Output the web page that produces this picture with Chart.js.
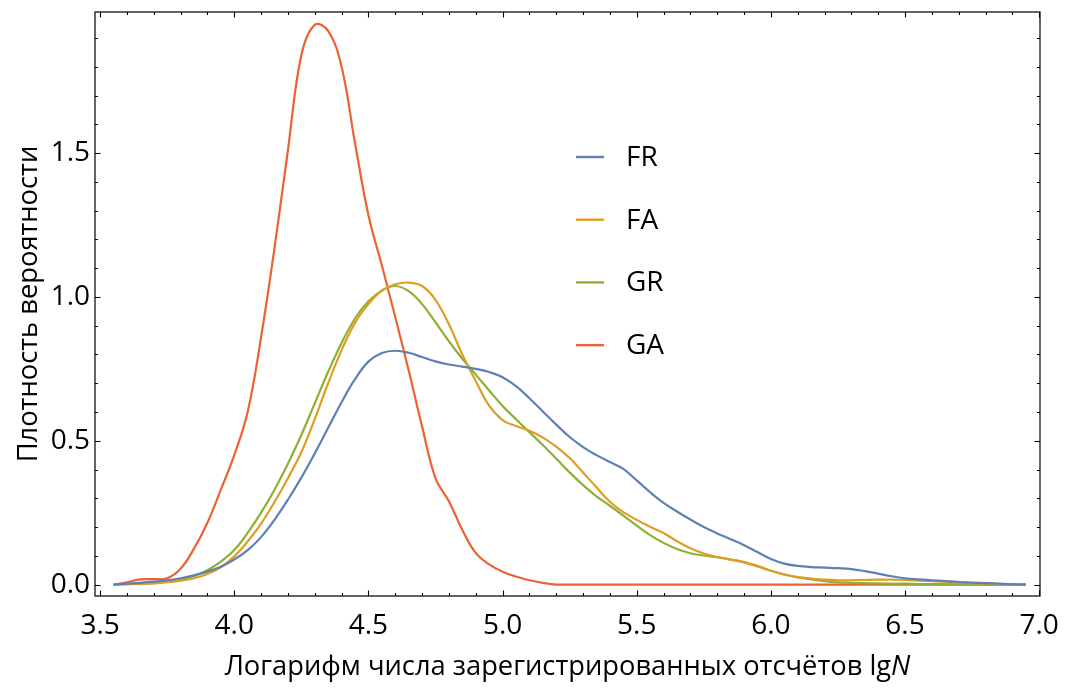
<!DOCTYPE html>
<html>
<head>
<meta charset="utf-8">
<script src="https://cdn.jsdelivr.net/npm/chart.js@4.4.1/dist/chart.umd.min.js"></script>
<style>
  html, body { margin: 0; padding: 0; background: #ffffff; }
  #wrap { width: 1066px; height: 691px; position: relative; }
</style>
</head>
<body>
<div id="wrap"><canvas id="c" width="1066" height="691"></canvas></div>
<script>
// Sample points of lg N
const lgN = [3.55, 3.60, 3.65, 3.70, 3.75, 3.80, 3.85, 3.90, 3.95, 4.00,
             4.05, 4.10, 4.15, 4.20, 4.25, 4.30, 4.35, 4.40, 4.45, 4.50,
             4.55, 4.60, 4.65, 4.70, 4.75, 4.80, 4.85, 4.90, 4.95, 5.00,
             5.05, 5.10, 5.15, 5.20, 5.25, 5.30, 5.35, 5.40, 5.45, 5.50,
             5.55, 5.60, 5.65, 5.70, 5.75, 5.80, 5.85, 5.90, 5.95, 6.00,
             6.05, 6.10, 6.15, 6.20, 6.25, 6.30, 6.35, 6.40, 6.45, 6.50,
             6.55, 6.60, 6.65, 6.70, 6.75, 6.80, 6.85, 6.90, 6.95];

// Probability density estimates per group
const densityFR = [0.000, 0.003, 0.006, 0.010, 0.015, 0.022, 0.032, 0.045, 0.062, 0.087,
                   0.120, 0.165, 0.225, 0.295, 0.372, 0.456, 0.545, 0.634, 0.714, 0.775,
                   0.805, 0.813, 0.806, 0.791, 0.776, 0.765, 0.758, 0.750, 0.739, 0.721,
                   0.690, 0.648, 0.602, 0.556, 0.513, 0.478, 0.450, 0.426, 0.402, 0.362,
                   0.321, 0.284, 0.254, 0.226, 0.200, 0.178, 0.158, 0.137, 0.113, 0.089,
                   0.073, 0.065, 0.061, 0.059, 0.057, 0.054, 0.047, 0.038, 0.029, 0.022,
                   0.018, 0.015, 0.012, 0.009, 0.007, 0.005, 0.003, 0.001, 0.000];

const densityFA = [0.000, 0.001, 0.002, 0.004, 0.008, 0.014, 0.022, 0.037, 0.060, 0.098,
                   0.150, 0.212, 0.287, 0.370, 0.460, 0.575, 0.700, 0.815, 0.910, 0.975,
                   1.022, 1.044, 1.050, 1.038, 0.990, 0.905, 0.800, 0.708, 0.622, 0.572,
                   0.551, 0.535, 0.511, 0.480, 0.440, 0.390, 0.338, 0.288, 0.252, 0.225,
                   0.201, 0.179, 0.151, 0.126, 0.108, 0.096, 0.087, 0.078, 0.065, 0.048,
                   0.035, 0.026, 0.021, 0.017, 0.015, 0.015, 0.016, 0.017, 0.017, 0.016,
                   0.014, 0.012, 0.010, 0.007, 0.005, 0.004, 0.002, 0.001, 0.000];

const densityGR = [0.000, 0.002, 0.003, 0.005, 0.010, 0.018, 0.030, 0.050, 0.080, 0.120,
                   0.180, 0.250, 0.330, 0.420, 0.520, 0.630, 0.740, 0.840, 0.925, 0.985,
                   1.022, 1.038, 1.020, 0.975, 0.912, 0.846, 0.785, 0.730, 0.675, 0.621,
                   0.575, 0.530, 0.485, 0.438, 0.390, 0.346, 0.307, 0.274, 0.240, 0.205,
                   0.172, 0.145, 0.124, 0.109, 0.101, 0.095, 0.087, 0.077, 0.063, 0.048,
                   0.035, 0.025, 0.018, 0.012, 0.008, 0.006, 0.005, 0.004, 0.003, 0.003,
                   0.002, 0.002, 0.001, 0.001, 0.001, 0.000, 0.000, 0.000, 0.000];

const densityGA = [0.000, 0.008, 0.018, 0.019, 0.022, 0.055, 0.125, 0.215, 0.330, 0.450,
                   0.600, 0.860, 1.170, 1.510, 1.840, 1.946, 1.925, 1.800, 1.535, 1.285,
                   1.110, 0.930, 0.745, 0.550, 0.370, 0.290, 0.190, 0.110, 0.070, 0.045,
                   0.028, 0.015, 0.006, 0.000, 0.000, 0.000, 0.000, 0.000, 0.000, 0.000,
                   0.000, 0.000, 0.000, 0.000, 0.000, 0.000, 0.000, 0.000, 0.000, 0.000,
                   0.000, 0.000, 0.000, 0.000, 0.000, 0.000, 0.000, 0.000, 0.000, 0.000,
                   0.000, 0.000, 0.000, 0.000, 0.000, 0.000, 0.000, 0.000, 0.000];

const seriesNames = ['FR', 'FA', 'GR', 'GA'];
const seriesColors = ['#5E81B5', '#E19C24', '#8FB032', '#EB6235'];
const seriesValues = [densityFR, densityFA, densityGR, densityGA];

// Labelled ticks
const xTickLabels = [3.5, 4.0, 4.5, 5.0, 5.5, 6.0, 6.5, 7.0];
const yTickLabels = [0.0, 0.5, 1.0, 1.5];

const xTitle = 'Логарифм числа зарегистрированных отсчётов lg';
const xTitleItalic = 'N';
const yTitle = 'Плотность вероятности';

const FONT = '"Open Sans", "Noto Sans", sans-serif';
const FONT_SIZE = 28;
const TITLE_SIZE = 27.3;

// Unlabelled minor ticks every 0.1
const xMinorTicks = [];
for (let i = 35; i <= 70; i++) xMinorTicks.push(i / 10);
const yMinorTicks = [];
for (let i = 0; i <= 19; i++) yMinorTicks.push(i / 10);

// Frame with inward ticks on all four sides
const framePlugin = {
  id: 'frame',
  afterDatasetsDraw(chart) {
    const { ctx, chartArea: a, scales } = chart;
    const xs = scales.x, ys = scales.y;
    const isMajor = (v) => Math.abs(v * 2 - Math.round(v * 2)) < 1e-6;
    ctx.save();
    ctx.strokeStyle = '#000';
    ctx.lineWidth = 1.2;
    ctx.strokeRect(a.left, a.top, a.right - a.left, a.bottom - a.top);
    ctx.lineWidth = 1.1;
    ctx.beginPath();
    xMinorTicks.forEach((v) => {
      const px = Math.round(xs.getPixelForValue(v)) + 0.5;
      if (px < a.left || px > a.right + 1) return;
      const len = isMajor(v) ? 5.5 : 3;
      ctx.moveTo(px, a.bottom); ctx.lineTo(px, a.bottom - len);
      ctx.moveTo(px, a.top); ctx.lineTo(px, a.top + len);
    });
    yMinorTicks.forEach((v) => {
      const py = Math.round(ys.getPixelForValue(v)) + 0.5;
      if (py < a.top || py > a.bottom) return;
      const len = isMajor(v) ? 5.5 : 3;
      ctx.moveTo(a.left, py); ctx.lineTo(a.left + len, py);
      ctx.moveTo(a.right, py); ctx.lineTo(a.right - len, py);
    });
    ctx.stroke();
    ctx.restore();
  }
};

// Legend inside the plot and the x-axis title with italic N
const legendPlugin = {
  id: 'insideLegend',
  afterDraw(chart) {
    const { ctx, chartArea: a } = chart;
    ctx.save();
    chart.data.datasets.forEach((ds, i) => {
      const y = 157 + i * 62.7;
      ctx.strokeStyle = ds.borderColor;
      ctx.lineWidth = 2.4;
      ctx.beginPath();
      ctx.moveTo(576, y); ctx.lineTo(604, y);
      ctx.stroke();
      ctx.fillStyle = '#000';
      ctx.font = FONT_SIZE + 'px ' + FONT;
      ctx.textAlign = 'left';
      ctx.textBaseline = 'middle';
      ctx.fillText(ds.label, 626, y + 1);
    });

    ctx.font = TITLE_SIZE + 'px ' + FONT;
    const w1 = ctx.measureText(xTitle).width;
    ctx.font = 'italic ' + TITLE_SIZE + 'px ' + FONT;
    const w2 = ctx.measureText(xTitleItalic).width;
    const cx = (a.left + a.right) / 2;
    const x0 = cx - (w1 + w2) / 2;
    const yb = 675;
    ctx.fillStyle = '#000';
    ctx.textAlign = 'left';
    ctx.textBaseline = 'alphabetic';
    ctx.font = TITLE_SIZE + 'px ' + FONT;
    ctx.fillText(xTitle, x0, yb);
    ctx.font = 'italic ' + TITLE_SIZE + 'px ' + FONT;
    ctx.fillText(xTitleItalic, x0 + w1, yb);
    ctx.restore();
  }
};

const datasets = seriesNames.map((name, i) => ({
  label: name,
  data: lgN.map((x, j) => ({ x: x, y: seriesValues[i][j] })),
  borderColor: seriesColors[i],
  backgroundColor: seriesColors[i],
  borderWidth: 2.2,
  pointRadius: 0,
  fill: false,
  tension: 0.4
}));

new Chart(document.getElementById('c'), {
  type: 'line',
  data: { datasets },
  plugins: [framePlugin, legendPlugin],
  options: {
    responsive: false,
    animation: false,
    devicePixelRatio: 1,
    layout: { padding: { top: 12, right: 26, left: 0, bottom: 0 } },
    plugins: { legend: { display: false }, tooltip: { enabled: false } },
    scales: {
      x: {
        type: 'linear',
        min: 3.481,
        max: 7.003,
        afterBuildTicks: (s) => { s.ticks = xTickLabels.map((v) => ({ value: v })); },
        afterFit: (s) => { s.height = 95; s.paddingLeft = 0; s.paddingRight = 0; },
        grid: { display: false, drawTicks: false },
        border: { display: false },
        ticks: {
          autoSkip: false,
          maxRotation: 0,
          padding: 13,
          color: '#000',
          font: { family: FONT, size: FONT_SIZE },
          callback: (v) => Number(v).toFixed(1)
        }
      },
      y: {
        type: 'linear',
        min: -0.0397,
        max: 1.9906,
        afterBuildTicks: (s) => { s.ticks = yTickLabels.map((v) => ({ value: v })); },
        afterFit: (s) => { s.width = 95; s.paddingTop = 0; s.paddingBottom = 0; },
        grid: { display: false, drawTicks: false },
        border: { display: false },
        title: {
          display: true,
          text: yTitle,
          color: '#000',
          font: { family: FONT, size: TITLE_SIZE },
          padding: { top: 13, bottom: 0 }
        },
        ticks: {
          autoSkip: false,
          padding: 5,
          color: '#000',
          font: { family: FONT, size: FONT_SIZE },
          callback: (v) => Number(v).toFixed(1)
        }
      }
    }
  }
});
</script>
</body>
</html>
